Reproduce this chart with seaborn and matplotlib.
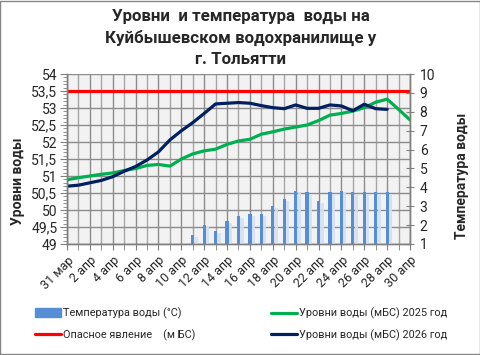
import numpy as np
import pandas as pd
import matplotlib
matplotlib.use('Agg')
import matplotlib.pyplot as plt
import matplotlib.ticker as mticker
from matplotlib.lines import Line2D
from matplotlib.patches import Patch, Rectangle
import matplotlib.patheffects as pe
import seaborn as sns

sns.set_style('white')
plt.rcParams['font.family'] = ['Roboto', 'DejaVu Sans']

#Data (day 0 = 31 мар)
day_labels = ['31 мар', '1 апр', '2 апр', '3 апр', '4 апр', '5 апр', '6 апр', '7 апр', '8 апр',
              '9 апр', '10 апр', '11 апр', '12 апр', '13 апр', '14 апр', '15 апр', '16 апр',
              '17 апр', '18 апр', '19 апр', '20 апр', '21 апр', '22 апр', '23 апр', '24 апр',
              '25 апр', '26 апр', '27 апр', '28 апр', '29 апр', '30 апр']
days = list(range(len(day_labels)))

level_2025 = [50.89, 50.95, 51.00, 51.05, 51.09, 51.16, 51.22, 51.31, 51.34, 51.29, 51.50,
              51.65, 51.74, 51.79, 51.93, 52.03, 52.08, 52.23, 52.30, 52.38, 52.44, 52.50,
              52.63, 52.79, 52.84, 52.91, 53.01, 53.17, 53.26, 52.96, 52.65]
level_2026 = [50.70, 50.73, 50.80, 50.87, 50.98, 51.14, 51.28, 51.47, 51.71, 52.06, 52.33,
              52.57, 52.84, 53.12, 53.14, 53.16, 53.14, 53.07, 53.01, 52.98, 53.09, 52.99,
              52.99, 53.09, 53.06, 52.92, 53.11, 52.98, 52.96]
danger_level = [53.5] * len(days)

temp_days = list(range(11, 29))
temp = [1.5, 2.0, 1.7, 2.2, 2.5, 2.6, 2.6, 3.0, 3.4, 3.8, 3.75, 3.3, 3.75, 3.8, 3.75, 3.75, 3.75, 3.75]

c_green = '#00B050'
c_navy = '#002060'
c_red = '#FF0000'
c_blue = '#558ED5'

fig = plt.figure(figsize=(4.81, 3.55), dpi=100)
ax = fig.add_axes([67/481, 1-244/355, (410-67)/481, (244-74)/355])
ax.set_facecolor('#F2F2F2')

#Grid
ax.set_xlim(0, 30)
ax.set_ylim(49, 54)
ax.xaxis.set_major_locator(mticker.MultipleLocator(2))
ax.xaxis.set_minor_locator(mticker.MultipleLocator(1))
ax.yaxis.set_major_locator(mticker.MultipleLocator(0.5))
ax.yaxis.set_minor_locator(mticker.MultipleLocator(0.1))
ax.grid(which='major', axis='both', color='#8C8C8C', lw=1)
ax.grid(which='minor', axis='x', color='#A6A6A6', lw=1)
ax.set_axisbelow(True)

#Temperature bars on second axis (axis starts at 1, bars grow from below it)
ax2 = ax.twinx()
sns.barplot(x=temp_days, y=temp, native_scale=True, color=c_blue, width=0.28,
            saturation=1, linewidth=0, edgecolor=c_blue, ax=ax2)
for p in ax2.patches:
    p.set_path_effects([pe.SimplePatchShadow(offset=(2.5, -1.5), shadow_rgbFace='#D3E0F2', alpha=0.9),
                        pe.Normal()])
ax2.set_xlim(0, 30)
ax2.set_ylim(1, 10)

#Lines
sns.lineplot(x=days, y=level_2025, color=c_green, lw=2.3, ax=ax)
sns.lineplot(x=days[:len(level_2026)], y=level_2026, color=c_navy, lw=2.3, ax=ax)
sns.lineplot(x=days, y=danger_level, color=c_red, lw=2.3, ax=ax)

#Ticks
ax.set_xticks(days[::2])
ax.set_xticklabels(day_labels[::2], rotation=45, ha='right', rotation_mode='anchor', fontsize=9)
ax.yaxis.set_major_formatter(mticker.FuncFormatter(lambda v, p: f'{v:g}'.replace('.', ',')))
ax.tick_params(axis='y', which='both', direction='out', left=True, labelsize=10, color='#808080')
ax.tick_params(axis='y', which='major', length=5, pad=2)
ax.tick_params(axis='y', which='minor', length=3)
ax.tick_params(axis='x', which='both', direction='out', bottom=True, length=4, color='#808080', pad=3)
ax2.yaxis.set_major_locator(mticker.MultipleLocator(1))
ax2.tick_params(axis='y', direction='inout', right=True, length=6, labelsize=10, color='#808080', pad=4)
ax.set_xlabel('')
ax.set_ylabel('')
ax2.set_ylabel('')
for a in (ax, ax2):
    for s in a.spines.values():
        s.set_color('#808080')
        s.set_linewidth(1)
    a.spines['top'].set_visible(False)

#Texts
fig.text(0.5, 1-38/355, 'Уровни  и температура  воды на\nКуйбышевском водохранилище у\nг. Тольятти',
         ha='center', va='center', fontsize=12.2, fontweight='bold', linespacing=1.45)
fig.text(18/481, 1-181/355, 'Уровни воды', rotation=90, ha='center', va='center',
         fontsize=10, fontweight='bold')
fig.text(462/481, 1-176/355, 'Температура воды', rotation=90, ha='center', va='center',
         fontsize=10, fontweight='bold')

#Legend
handles = [Patch(color=c_blue), Line2D([], [], color=c_red, lw=2.3),
           Line2D([], [], color=c_green, lw=2.3), Line2D([], [], color=c_navy, lw=2.3)]
labels = ['Температура воды (°C)', 'Опасное явление    (м БС)',
          'Уровни воды (мБС) 2025 год', 'Уровни воды (мБС) 2026 год']
fig.legend(handles, labels, ncol=2, loc='upper left', bbox_to_anchor=(25.5/481, 1-298/355),
           frameon=False, fontsize=7.8, handlelength=2.4, handleheight=0.9, handletextpad=0.2,
           columnspacing=6.9, labelspacing=0.95)

fig.add_artist(Rectangle((0.001, 0.002), 0.996, 0.995, transform=fig.transFigure,
                         fill=False, edgecolor='#868686', lw=1))

fig.savefig('out.png', dpi=100)
